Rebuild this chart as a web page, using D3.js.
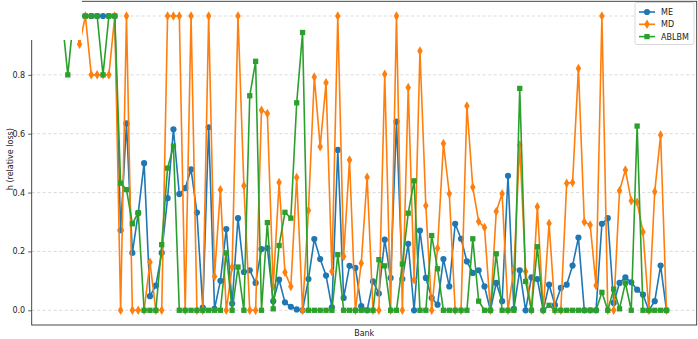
<!DOCTYPE html>
<html>
<head>
<meta charset="utf-8">
<script src="https://cdn.jsdelivr.net/npm/d3@7/dist/d3.min.js"></script>
<style>
  body { margin: 0; background: #fff; }
  svg { display: block; font-family: "DejaVu Sans", sans-serif; }
</style>
</head>
<body>
<div class="chart"></div>
<script>
// values, one per bank (104 banks)
var meValues = [
  1.0, 1.0, 1.0, 1.0, 1.0, 1.0, 1.0, 1.0, 1.0, 1.0,
  0.272, 0.635, 0.195, 0.33, 0.50, 0.048, 0.084, 0.195, 0.381, 0.615,
  0.395, 0.415, 0.479, 0.332, 0.009, 0.622, 0.005, 0.10, 0.276, 0.023,
  0.313, 0.13, 0.136, 0.093, 0.208, 0.211, 0.031, 0.104, 0.027, 0.012,
  0.003, 0.0, 0.106, 0.242, 0.174, 0.118, 0.01, 0.545, 0.042, 0.151,
  0.144, 0.014, 0.0, 0.098, 0.057, 0.24, 0.11, 0.641, 0.106, 0.226,
  0.0, 0.271, 0.11, 0.042, 0.019, 0.174, 0.081, 0.294, 0.243, 0.166,
  0.127, 0.136, 0.081, 0.0, 0.093, 0.031, 0.457, 0.005, 0.136, 0.0,
  0.112, 0.106, 0.0, 0.087, 0.018, 0.076, 0.087, 0.152, 0.247, 0.0,
  0.0, 0.0, 0.294, 0.313, 0.025, 0.093, 0.112, 0.095, 0.07, 0.053,
  0.0, 0.031, 0.152, 0.0
];
var mdValues = [
  1.0, 1.0, 1.0, 0.904, 1.0, 0.8, 0.8, 0.8, 0.8, 1.0,
  0.0, 1.0, 0.0, 0.0, 0.0, 0.163, 0.0, 0.0, 1.0, 1.0,
  1.0, 0.0, 1.0, 0.0, 0.0, 1.0, 0.115, 0.41, 0.0, 0.147,
  1.0, 0.423, 0.0, 0.0, 0.68, 0.669, 0.081, 0.434, 0.129, 0.081,
  0.451, 0.0, 0.339, 0.793, 0.556, 0.773, 0.132, 1.0, 0.183, 0.511,
  0.0, 0.16, 0.452, 0.0, 0.0, 0.802, 0.0, 1.0, 0.0, 0.757,
  0.104, 0.881, 0.355, 0.0, 0.211, 0.567, 0.396, 0.0, 0.0, 0.694,
  0.418, 0.302, 0.281, 0.0, 0.336, 0.396, 0.0, 0.14, 0.562, 0.132,
  0.0, 0.352, 0.0, 0.295, 0.0, 0.0, 0.432, 0.434, 0.822, 0.30,
  0.29, 0.084, 1.0, 0.0, 0.0, 0.406, 0.477, 0.372, 0.367, 0.266,
  0.0, 0.403, 0.596, 0.0
];
var ablbmValues = [
  1.0, 0.8, 1.0, 1.0, 1.0, 1.0, 1.0, 0.8, 1.0, 1.0,
  0.432, 0.41, 0.294, 0.332, 0.0, 0.0, 0.0, 0.223, 0.483, 0.558,
  0.0, 0.0, 0.0, 0.0, 0.0, 0.0, 0.0, 0.0, 0.195, 0.0,
  0.147, 0.0, 0.729, 0.846, 0.0, 0.298, 0.005, 0.22, 0.333, 0.313,
  0.705, 0.944, 0.0, 0.0, 0.0, 0.0, 0.0, 0.189, 0.0, 0.0,
  0.0, 0.0, 0.0, 0.0, 0.172, 0.151, 0.0, 0.0, 0.157, 0.33,
  0.44, 0.0, 0.0, 0.254, 0.141, 0.0, 0.0, 0.0, 0.0, 0.0,
  0.243, 0.031, 0.0, 0.0, 0.192, 0.0, 0.0, 0.0, 0.754, 0.098,
  0.0, 0.216, 0.0, 0.017, 0.0, 0.0, 0.0, 0.0, 0.0, 0.0,
  0.0, 0.0, 0.061, 0.0, 0.072, 0.005, 0.093, 0.0, 0.626, 0.0,
  0.0, 0.0, 0.0, 0.0
];
var yTicks = [0.0, 0.2, 0.4, 0.6, 0.8, 1.0];

var series = [
  {name: "ME", values: meValues, color: "#1f77b4", symbol: d3.symbolCircle, size: 30},
  {name: "MD", values: mdValues, color: "#ff7f0e", symbol: d3.symbolDiamond, size: 26},
  {name: "ABLBM", values: ablbmValues, color: "#2ca02c", symbol: d3.symbolSquare, size: 28}
];

var width = 698, height = 339;
var plot = {left: 31.7, right: 696.7, top: 1.3, bottom: 325};

var svg = d3.select(".chart").append("svg")
  .attr("width", width)
  .attr("height", height);

var n = meValues.length - 1;
var x = d3.scaleLinear().domain([-0.05 * n, 1.05 * n]).range([plot.left, plot.right]);
var y = d3.scaleLinear().domain([-0.05, 1.05]).range([plot.bottom, plot.top]);

// dashed grid
svg.append("g").selectAll("line")
  .data(yTicks)
  .enter().append("line")
  .attr("x1", plot.left).attr("x2", plot.right)
  .attr("y1", function(d) { return y(d); })
  .attr("y2", function(d) { return y(d); })
  .attr("stroke", "#b0b0b0")
  .attr("stroke-opacity", 0.6)
  .attr("stroke-width", 0.8)
  .attr("stroke-dasharray", "3,2.5");

// y axis
var yAxis = d3.axisLeft(y).tickValues(yTicks).tickFormat(d3.format(".1f")).tickSize(3.5).tickPadding(3);
var ga = svg.append("g").attr("transform", "translate(" + plot.left + ",0)").call(yAxis);
ga.select(".domain").remove();
ga.selectAll("text").attr("font-size", "8px").attr("fill", "#222").attr("font-family", "DejaVu Sans, sans-serif");
ga.selectAll("line").attr("stroke", "#333").attr("stroke-width", 0.8);

// lines and markers
series.forEach(function(s) {
  var line = d3.line()
    .x(function(d, i) { return x(i); })
    .y(function(d) { return y(d); });
  var g = svg.append("g").attr("class", s.name);
  g.append("path")
    .datum(s.values)
    .attr("d", line)
    .attr("fill", "none")
    .attr("stroke", s.color)
    .attr("stroke-width", 1.6)
    .attr("stroke-linejoin", "round");
  g.selectAll("path.pt")
    .data(s.values)
    .enter().append("path")
    .attr("class", "pt")
    .attr("d", d3.symbol().type(s.symbol).size(s.size))
    .attr("transform", function(d, i) { return "translate(" + x(i) + "," + y(d) + ")"; })
    .attr("fill", s.color);
});

// frame
svg.append("rect")
  .attr("x", plot.left).attr("y", plot.top)
  .attr("width", plot.right - plot.left).attr("height", plot.bottom - plot.top)
  .attr("fill", "none").attr("stroke", "#333").attr("stroke-width", 0.9);

// axis titles
svg.append("text")
  .attr("x", (plot.left + plot.right) / 2).attr("y", 336)
  .attr("text-anchor", "middle").attr("font-size", "8px").attr("fill", "#222")
  .text("Bank");
svg.append("text")
  .attr("transform", "translate(13," + ((plot.top + plot.bottom) / 2 - 4) + ") rotate(-90)")
  .attr("text-anchor", "middle").attr("font-size", "8px").attr("fill", "#222")
  .text("h (relative loss)");

// legend
var legend = svg.append("g").attr("transform", "translate(635,2.5)");
legend.append("rect")
  .attr("width", 59).attr("height", 42).attr("rx", 2)
  .attr("fill", "#fff").attr("fill-opacity", 0.85)
  .attr("stroke", "#d0d0d0").attr("stroke-width", 0.8);
series.forEach(function(s, i) {
  var row = legend.append("g").attr("transform", "translate(0," + (9.5 + i * 12.3) + ")");
  row.append("line").attr("x1", 4).attr("x2", 20).attr("stroke", s.color).attr("stroke-width", 1.6);
  row.append("path").attr("d", d3.symbol().type(s.symbol).size(s.size)).attr("transform", "translate(12,0)").attr("fill", s.color);
  row.append("text").attr("x", 26).attr("y", 3).attr("font-size", "8px").attr("fill", "#222").text(s.name);
});

// blanked-out patch in the upper left corner of the picture
svg.append("rect")
  .attr("x", 0).attr("y", 0).attr("width", 82).attr("height", 40)
  .attr("fill", "#fff");
</script>
</body>
</html>
